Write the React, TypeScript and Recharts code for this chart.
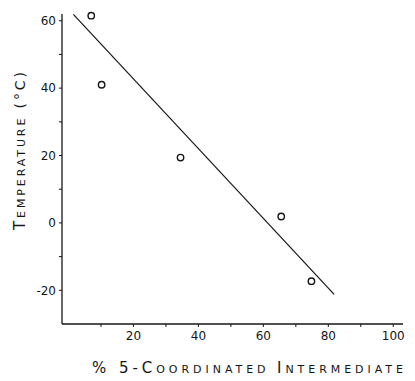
import React from "react";
import { ScatterChart, Scatter, XAxis, YAxis, Label } from "recharts";

const pointX = [7, 10.2, 34.5, 65.5, 74.8];
const pointY = [61.5, 41, 19.4, 1.9, -17.3];
const fitX = [1.5, 81.8];
const fitY = [61.9, -21.2];
const xTicks = [10, 20, 30, 40, 50, 60, 70, 80, 90, 100];
const xTickLabels = ["", "20", "", "40", "", "60", "", "80", "", "100"];
const yTicks = [-20, -10, 0, 10, 20, 30, 40, 50, 60];
const yTickLabels = ["-20", "", "0", "", "20", "", "40", "", "60"];

const points = pointX.map((x, i) => ({ x, y: pointY[i] }));
const fit = fitX.map((x, i) => ({ x, y: fitY[i] }));

const FONT = "'DejaVu Sans', sans-serif";
const INK = "#161616";

const Circle = (p: any) => (
  <circle cx={p.cx} cy={p.cy} r={3.2} fill="#fff" stroke={INK} strokeWidth={1.4} />
);
const NoShape = () => <g />;

const YLabel = () => (
  <text
    x={25}
    y={151}
    transform="rotate(-90 25 151)"
    textAnchor="middle"
    fill={INK}
    fontFamily={FONT}
    textLength={158}
    lengthAdjust="spacing"
  >
    <tspan fontSize={15}>T</tspan>
    <tspan fontSize={11}>EMPERATURE</tspan>
    <tspan fontSize={14}> (°C)</tspan>
  </text>
);

const XLabel = () => (
  <text
    x={92}
    y={373}
    fill={INK}
    fontFamily={FONT}
    textLength={311}
    lengthAdjust="spacing"
  >
    <tspan fontSize={15}>% 5-C</tspan>
    <tspan fontSize={11}>OORDINATED </tspan>
    <tspan fontSize={15}>I</tspan>
    <tspan fontSize={11}>NTERMEDIATE</tspan>
  </text>
);

export default function App() {
  return (
    <div style={{ position: "absolute", left: 0, top: 0, background: "#fff" }}>
      <ScatterChart
        width={415}
        height={381}
        margin={{ top: 14, right: 12, bottom: 0, left: 0 }}
      >
        <XAxis
          type="number"
          dataKey="x"
          domain={[-2, 103]}
          ticks={xTicks}
          tickFormatter={(v: number) => xTickLabels[xTicks.indexOf(v)] ?? ""}
          height={57}
          tickSize={3}
          tickMargin={4}
          axisLine={{ stroke: INK, strokeWidth: 1.3 }}
          tickLine={{ stroke: INK }}
          tick={{ fill: INK, fontSize: 12, fontFamily: FONT }}
        >
          <Label content={<XLabel />} />
        </XAxis>
        <YAxis
          type="number"
          dataKey="y"
          domain={[-30, 62]}
          ticks={yTicks}
          tickFormatter={(v: number) => yTickLabels[yTicks.indexOf(v)] ?? ""}
          width={62}
          tickSize={3}
          tickMargin={3}
          axisLine={{ stroke: INK, strokeWidth: 1.3 }}
          tickLine={{ stroke: INK }}
          tick={{ fill: INK, fontSize: 12, fontFamily: FONT }}
        >
          <Label content={<YLabel />} />
        </YAxis>
        <Scatter
          data={fit}
          line={{ stroke: INK, strokeWidth: 1.2 }}
          shape={<NoShape />}
          isAnimationActive={false}
        />
        <Scatter data={points} shape={<Circle />} isAnimationActive={false} />
      </ScatterChart>
    </div>
  );
}
